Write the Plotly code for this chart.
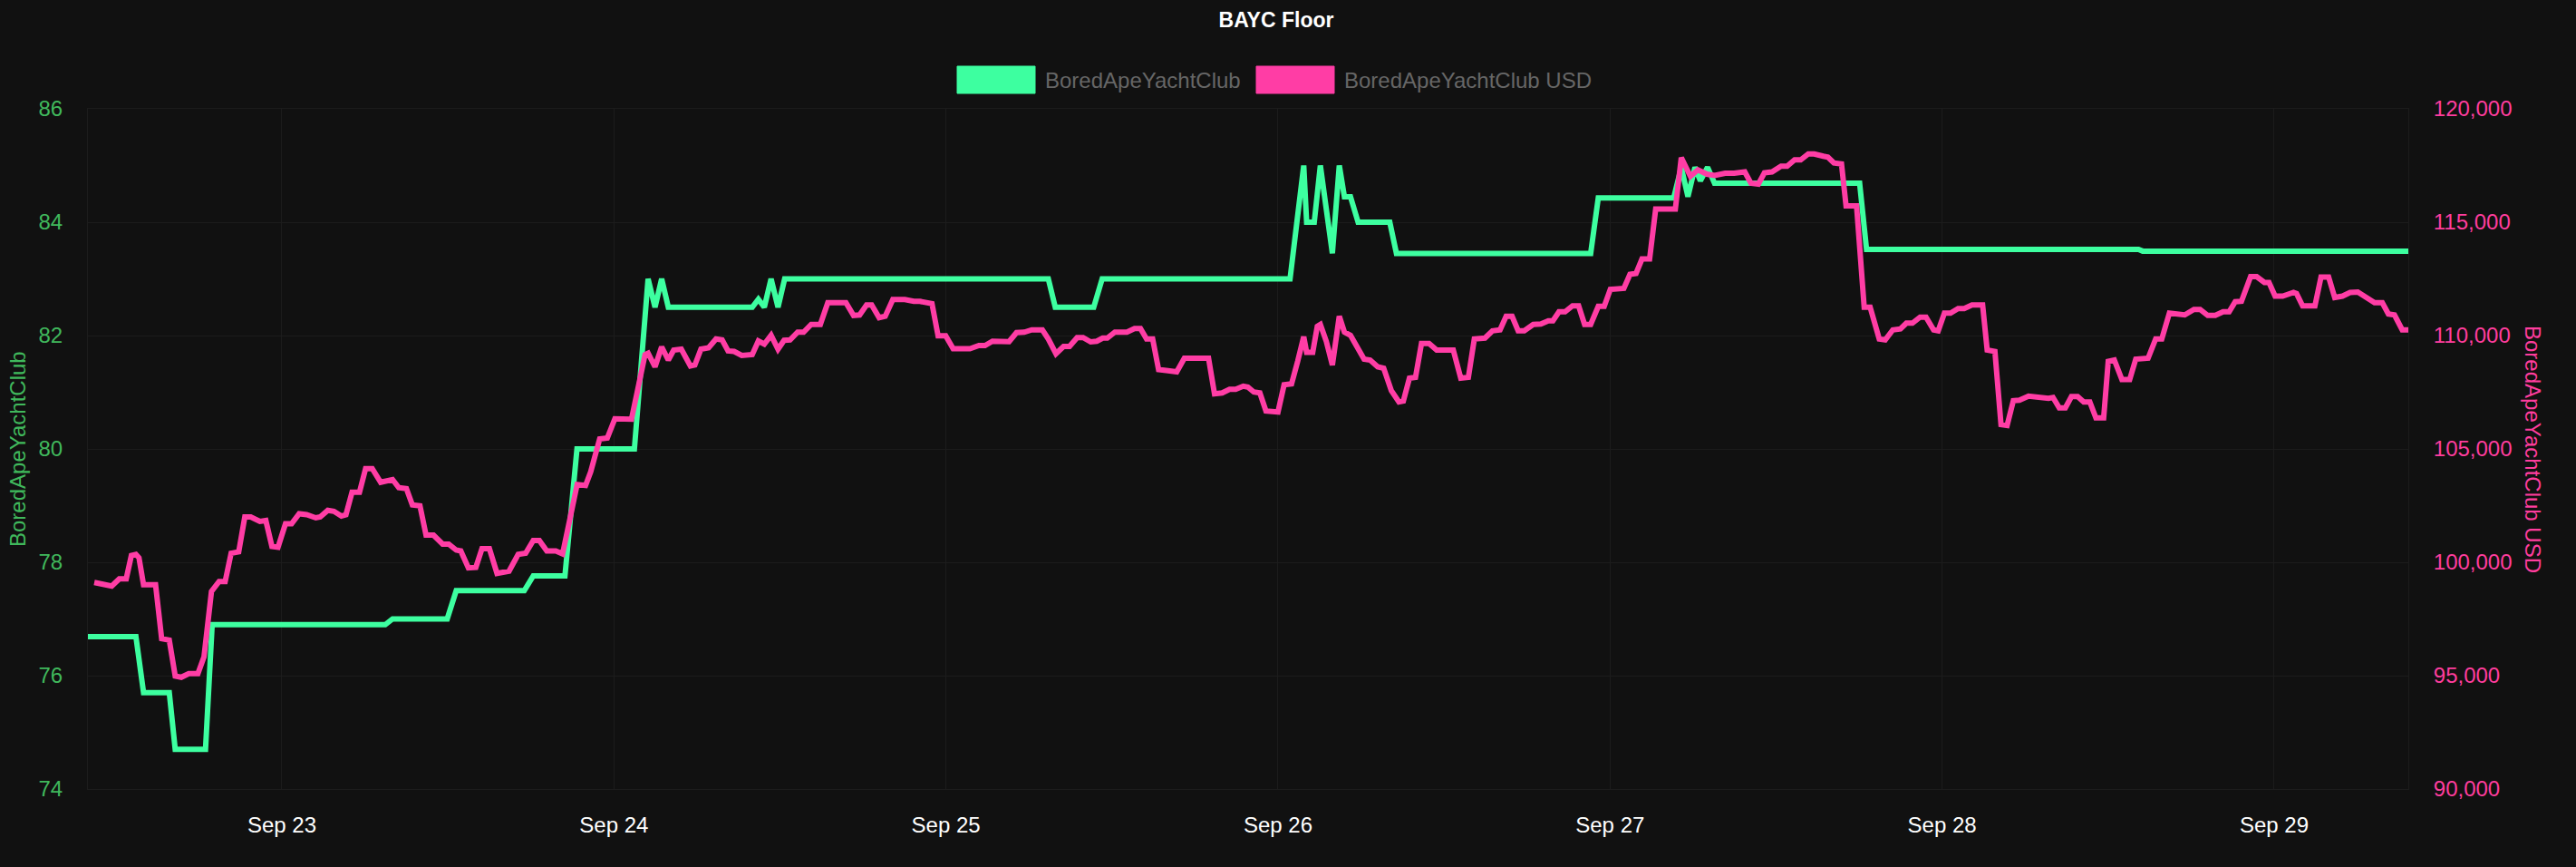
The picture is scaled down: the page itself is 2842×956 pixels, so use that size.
import pandas as pd
import plotly.graph_objects as go

# ---------------- data (hours since 2022-09-22 00:00) ----------------
base = pd.Timestamp("2022-09-22 00:00")

eth_hours = [9.98, 13.45, 14.0, 15.86, 16.29, 18.48, 18.96, 31.47, 32.0, 35.95, 36.6, 41.52,
             42.17, 44.46, 45.33, 49.48, 50.47, 50.97, 51.45, 51.93, 58.0, 58.44, 58.87, 59.36,
             59.86, 60.34, 79.4, 79.9, 82.68, 83.29, 96.87, 97.86, 98.07, 98.62, 99.06, 99.93,
             100.43, 100.8, 101.24, 101.79, 104.08, 104.56, 118.6, 119.15, 124.6, 125.15, 125.63,
             126.14, 126.53, 127.05, 127.55, 138.04, 138.54, 158.2, 158.5, 177.7]
eth_floor = [76.69, 76.69, 75.70, 75.70, 74.70, 74.70, 76.90, 76.90, 77.0, 77.0, 77.5, 77.5,
             77.76, 77.76, 80.0, 80.0, 83.0, 82.5, 83.0, 82.5, 82.5, 82.64, 82.5, 83.0,
             82.5, 83.0, 83.0, 82.5, 82.5, 83.0, 83.0, 85.0, 84.0, 84.0, 85.0, 83.45,
             85.0, 84.45, 84.45, 84.0, 84.0, 83.45, 83.45, 84.43, 84.43, 84.97, 84.45,
             84.97, 84.73, 84.97, 84.69, 84.69, 83.52, 83.52, 83.49, 83.49]

usd_hours = [10.44, 10.94, 11.70, 12.25, 12.75, 13.12, 13.45, 13.67, 14.00, 14.87, 15.31, 15.86,
             16.29, 16.73, 17.27, 17.93, 18.37, 18.91, 19.46, 19.90, 20.33, 20.88, 21.32, 21.75,
             22.41, 22.84, 23.28, 23.72, 24.26, 24.70, 25.25, 25.79, 26.45, 26.77, 27.32, 27.76,
             28.30, 28.63, 29.07, 29.61, 30.05, 30.53, 31.14, 32.00, 32.45, 33.00, 33.43, 33.98,
             34.42, 34.96, 35.62, 36.06, 36.60, 36.93, 37.48, 38.02, 38.46, 39.00, 39.55, 40.42,
             41.08, 41.62, 42.17, 42.61, 43.15, 43.80, 44.29, 45.34, 45.95, 46.32, 46.97, 47.52,
             48.07, 49.27, 50.25, 50.47, 50.97, 51.45, 51.93, 52.32, 52.87, 53.53, 53.85, 54.29,
             54.84, 55.38, 55.82, 56.25, 56.69, 57.24, 58.00, 58.44, 58.87, 59.36, 59.86, 60.30,
             60.73, 61.28, 61.71, 62.26, 62.92, 63.46, 64.77, 65.32, 65.76, 66.26, 66.63, 67.17,
             67.61, 68.16, 69.03, 69.68, 70.12, 70.99, 71.43, 71.98, 72.52, 73.73, 74.38, 74.82,
             75.36, 76.56, 77.10, 77.66, 78.20, 78.97, 79.40, 79.95, 80.50, 80.93, 81.48, 81.91,
             82.46, 82.90, 83.33, 83.66, 84.21, 85.08, 85.63, 86.06, 86.50, 86.94, 87.37, 87.92,
             88.68, 89.23, 90.98, 91.41, 91.96, 92.50, 92.94, 93.49, 93.82, 94.25, 94.69, 95.13,
             96.00, 96.44, 96.98, 97.42, 97.86, 98.07, 98.51, 98.84, 99.06, 99.49, 99.93, 100.43,
             100.80, 101.24, 101.79, 102.22, 102.66, 103.21, 103.64, 104.19, 104.74, 105.06, 105.50, 105.94,
             106.37, 106.92, 107.47, 108.67, 109.21, 109.76, 110.19, 110.96, 111.50, 112.05, 112.49, 112.92,
             113.36, 113.80, 114.45, 115.00, 115.54, 115.87, 116.31, 116.75, 117.29, 117.73, 118.16, 118.60,
             119.15, 119.58, 120.02, 121.00, 121.44, 121.88, 122.31, 122.86, 123.30, 124.72, 125.15, 125.37,
             125.81, 126.35, 127.00, 127.56, 128.32, 128.97, 129.74, 130.18, 130.72, 131.16, 131.71, 132.36,
             132.80, 133.34, 133.78, 134.33, 134.76, 135.42, 135.75, 136.18, 136.73, 137.06, 137.82, 138.37,
             138.80, 139.46, 139.89, 140.44, 140.99, 141.42, 141.86, 142.41, 142.84, 143.39, 143.72, 144.17,
             144.61, 145.16, 145.60, 146.16, 146.93, 147.26, 147.82, 148.26, 148.70, 149.15, 149.59, 150.25,
             150.81, 151.69, 152.02, 152.47, 152.91, 153.35, 153.80, 154.24, 154.68, 155.12, 155.68, 156.01,
             156.45, 157.00, 157.56, 158.00, 158.89, 159.44, 159.88, 160.43, 161.54, 162.20, 162.65, 163.20,
             163.75, 164.31, 164.75, 165.19, 165.64, 166.30, 166.74, 167.30, 167.63, 168.07, 168.62, 169.40,
             169.62, 170.06, 170.95, 171.39, 171.94, 172.38, 172.94, 173.49, 174.05, 174.60, 175.26, 175.82,
             176.26, 176.70, 177.26, 177.70]
usd_floor = [99110, 99070, 98950, 99270, 99270, 100300, 100350, 100200, 99010, 99010, 96630, 96570,
             94980, 94930, 95090, 95090, 95830, 98710, 99150, 99150, 100400, 100460, 102000, 102000,
             101800, 101840, 100700, 100660, 101700, 101700, 102140, 102100, 101960, 102000, 102290, 102250,
             102040, 102100, 103090, 103090, 104130, 104130, 103530, 103650, 103290, 103250, 102530, 102490,
             101200, 101200, 100800, 100800, 100540, 100500, 99750, 99770, 100600, 100600, 99510, 99610,
             100350, 100400, 100960, 100960, 100500, 100500, 100370, 103430, 103390, 103990, 105440, 105480,
             106330, 106310, 109160, 109220, 108620, 109500, 108920, 109360, 109400, 108660, 108700, 109400,
             109460, 109850, 109810, 109320, 109300, 109120, 109160, 109760, 109620, 110010, 109400, 109790,
             109810, 110150, 110150, 110490, 110490, 111450, 111450, 110890, 110910, 111350, 111350, 110790,
             110850, 111590, 111590, 111510, 111510, 111410, 109990, 109990, 109420, 109420, 109560, 109560,
             109750, 109730, 110130, 110150, 110250, 110250, 109850, 109200, 109520, 109520, 109910, 109910,
             109720, 109750, 109890, 109890, 110150, 110150, 110310, 110310, 109850, 109850, 108500, 108460,
             108400, 109000, 109000, 107430, 107470, 107630, 107630, 107770, 107730, 107510, 107470, 106670,
             106630, 107830, 107870, 108860, 109950, 109260, 109260, 110410, 110490, 109750, 108700, 110850,
             110150, 110010, 109360, 108960, 108920, 108620, 108560, 107570, 107070, 107110, 108120, 108160,
             109650, 109650, 109360, 109360, 108120, 108160, 109850, 109890, 110210, 110250, 110850, 110850,
             110210, 110210, 110490, 110510, 110650, 110650, 111050, 111050, 111310, 111310, 110490, 110490,
             111290, 111290, 112040, 112080, 112700, 112740, 113380, 113380, 115580, 115580, 117850, 117610,
             117020, 117310, 117120, 117060, 117160, 117160, 117220, 116720, 116680, 117180, 117220, 117470,
             117470, 117750, 117750, 118010, 118010, 117910, 117870, 117610, 117570, 115720, 115720, 111250,
             111250, 109850, 109810, 110250, 110290, 110550, 110550, 110810, 110810, 110250, 110210, 110990,
             110990, 111190, 111190, 111350, 111350, 109360, 109300, 106070, 106030, 107130, 107150, 107330,
             107270, 107230, 107270, 106810, 106810, 107310, 107310, 107070, 107070, 106370, 106370, 108860,
             108920, 108060, 108060, 108960, 109000, 109850, 109850, 110990, 110910, 111150, 111150, 110890,
             110890, 111050, 111050, 111490, 111510, 112600, 112600, 112340, 112340, 111740, 111740, 111900,
             111850, 111310, 111310, 112580, 112580, 111680, 111740, 111900, 111920, 111720, 111450, 111450,
             110950, 110910, 110250, 110250]

eth_ticks = [74, 76, 78, 80, 82, 84, 86]
usd_ticks = [90000, 95000, 100000, 105000, 110000, 115000, 120000]

series_names = ["BoredApeYachtClub", "BoredApeYachtClub USD"]
chart_title = "BAYC Floor"

# ---------------- styling ----------------
GREEN = "#3dffa0"
PINK = "#ff3da5"
GREEN_TXT = "#40b85c"
PINK_TXT = "#ff3d9e"
BG = "#111111"
GRID = "#1c1c1c"
FONT = "Liberation Sans, Arial, Helvetica, sans-serif"

W, H = 2842, 956
ML, MR, MT, MB = 97, 185, 120, 86
PW, PH = W - ML - MR, H - MT - MB


def px(x):
    return (x - ML) / PW


def py(y):
    return (H - MB - y) / PH


eth_t = [base + pd.Timedelta(hours=h) for h in eth_hours]
usd_t = [base + pd.Timedelta(hours=h) for h in usd_hours]

fig = go.Figure()
fig.add_trace(go.Scatter(x=usd_t, y=usd_floor, mode="lines", name=series_names[1],
                         line=dict(color=PINK, width=6), yaxis="y2", hoverinfo="skip"))
fig.add_trace(go.Scatter(x=eth_t, y=eth_floor, mode="lines", name=series_names[0],
                         line=dict(color=GREEN, width=6), yaxis="y", hoverinfo="skip"))

fig.update_layout(
    width=W, height=H,
    margin=dict(l=ML, r=MR, t=MT, b=MB, pad=0),
    paper_bgcolor=BG, plot_bgcolor=BG,
    showlegend=False,
    font=dict(family=FONT, size=24, color="#ffffff"),
    title=dict(text="<b>" + chart_title + "</b>", x=1408 / W, xref="container", xanchor="center",
               y=1 - 22 / H, yref="container", yanchor="middle",
               font=dict(family=FONT, size=23, color="#ffffff")),
    xaxis=dict(type="date", range=[eth_t[0], eth_t[-1]],
               tick0="2022-09-23", dtick=86400000, tickformat="%b %d",
               showgrid=True, gridcolor=GRID, gridwidth=1,
               showline=True, linecolor=GRID, mirror=True, zeroline=False,
               ticks="outside", ticklen=18, tickcolor="rgba(0,0,0,0)",
               tickfont=dict(family=FONT, size=24, color="#ffffff")),
    yaxis=dict(range=[74, 86], tickvals=eth_ticks, ticktext=[str(v) for v in eth_ticks],
               showgrid=True, gridcolor=GRID, gridwidth=1, zeroline=False,
               showline=True, linecolor=GRID, mirror=True,
               ticks="outside", ticklen=22, tickcolor="rgba(0,0,0,0)",
               tickfont=dict(family=FONT, size=24, color=GREEN_TXT)),
    yaxis2=dict(range=[90000, 120000], tickvals=usd_ticks,
                ticktext=[f"{v:,}" for v in usd_ticks],
                overlaying="y", side="right", showgrid=False, zeroline=False,
                ticks="outside", ticklen=22, tickcolor="rgba(0,0,0,0)",
                tickfont=dict(family=FONT, size=24, color=PINK_TXT)),
)

# axis titles
fig.add_annotation(text=series_names[0], xref="paper", yref="paper", x=px(19), y=py(495),
                   xanchor="center", yanchor="middle", textangle=-90, showarrow=False,
                   font=dict(family=FONT, size=24, color=GREEN_TXT))
fig.add_annotation(text=series_names[1], xref="paper", yref="paper", x=px(2795), y=py(495),
                   xanchor="center", yanchor="middle", textangle=90, showarrow=False,
                   font=dict(family=FONT, size=24, color=PINK_TXT))

# legend (box + label)
legend_items = [(series_names[0], GREEN, 1056), (series_names[1], PINK, 1386)]
for name, col, x0 in legend_items:
    fig.add_shape(type="rect", xref="paper", yref="paper",
                  x0=px(x0), x1=px(x0 + 86), y0=py(103), y1=py(73),
                  fillcolor=col, line=dict(color=col, width=1))
    fig.add_annotation(text=name, xref="paper", yref="paper", x=px(x0 + 95), y=py(88),
                       xanchor="left", yanchor="middle", showarrow=False,
                       font=dict(family=FONT, size=24, color="#666666"))

fig.write_html("out.html", config={"displayModeBar": False},
               post_script="document.body.style.margin='0';document.body.style.background='#111111';")
